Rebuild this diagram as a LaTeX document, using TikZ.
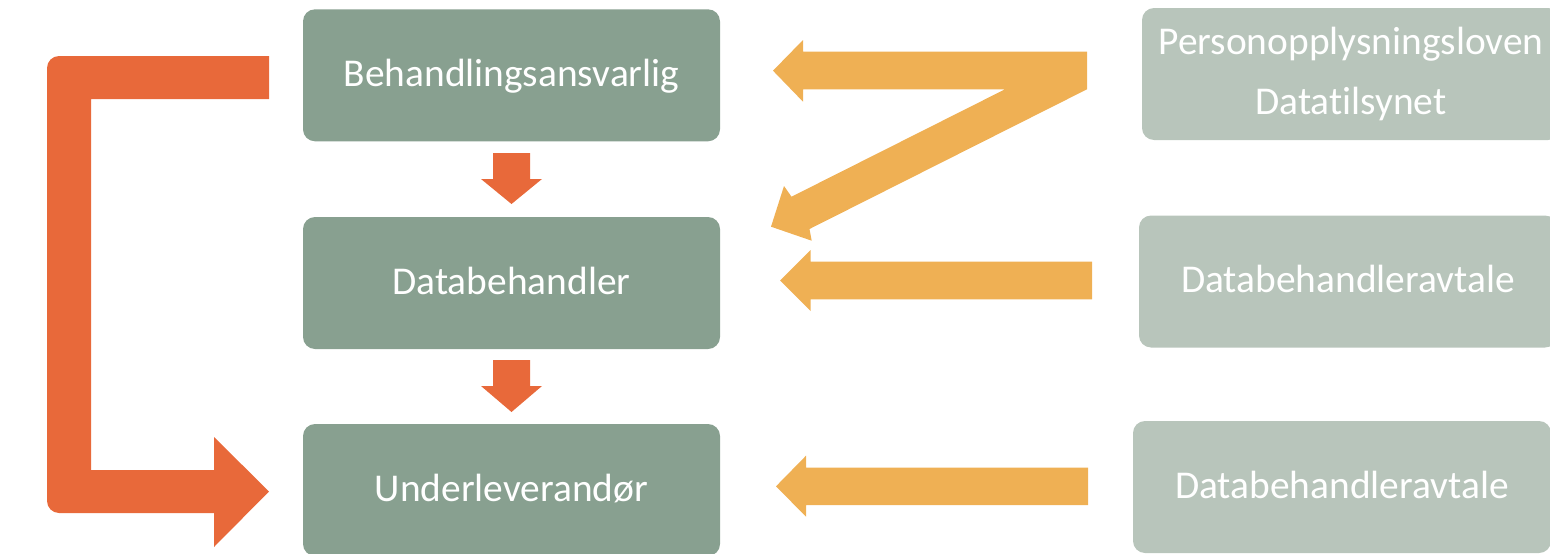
\documentclass[tikz,border=0pt]{standalone}
\usepackage{fontspec}
\setmainfont{Carlito}[Ligatures={NoCommon}]
\definecolor{dgreen}{HTML}{88A090}
\definecolor{lgreen}{HTML}{B8C5BB}
\definecolor{orng}{HTML}{E8693A}
\definecolor{yell}{HTML}{EFB054}
\tikzset{
  mainbox/.style={rectangle, rounded corners=12pt, fill=dgreen, text=white,
    minimum width=417pt, minimum height=132pt, inner sep=0pt,
    font=\fontsize{39.4}{60}\selectfont},
  sidebox/.style={mainbox, fill=lgreen, minimum width=418pt},
  oneline/.style={text height=28pt, text depth=6pt},
  oarrow/.style={fill=orng},
  yarrow/.style={fill=yell},
}
\begin{document}
\begin{tikzpicture}[x=1pt,y=-1pt]
\useasboundingbox (0,0) rectangle (1550,554);
\clip (0,0) rectangle (1550,554);

% main boxes
\node[mainbox, oneline] (b1) at (511.5,75.3) {Behandlingsansvarlig};
\node[mainbox, oneline] (b2) at (511.5,283) {Databehandler};
\node[mainbox, oneline] (b3) at (511.5,490) {Underleverandør};

% side boxes
\node[sidebox, align=center] (r1) at (1351,74) {Personopplysningsloven\\Datatilsynet};
\node[sidebox, oneline] (r2) at (1348,281.5) {Databehandleravtale};
\node[sidebox, oneline] (r3) at (1342,487) {Databehandleravtale};

% small down arrows between main boxes
\fill[oarrow] (493,153) -- (530,153) -- (530,179) -- (542,179) -- (511.5,204)
  -- (481,179) -- (493,179) -- cycle;
\fill[oarrow] (493,360) -- (530,360) -- (530,386) -- (542,386) -- (511.5,412)
  -- (481,386) -- (493,386) -- cycle;

% big L-shaped orange arrow from b1 to b3
\fill[oarrow] (269,56) -- (59,56) .. controls (52.4,56) and (47,61.4) .. (47,68)
  -- (47,501) .. controls (47,507.6) and (52.4,513) .. (59,513)
  -- (214,513) -- (214,547) -- (269,491.5) -- (214,437) -- (214,470)
  -- (91,470) -- (91,99) -- (269,99) -- cycle;

% combined yellow arrow from r1 to b1 and b2
\fill[yarrow] (1087,51.7) -- (1087,89.3) -- (809.5,229) -- (811.7,240.7)
  -- (771,226.7) -- (784,186) -- (791.5,196.7) -- (1005,89.3)
  -- (803,89.3) -- (803,101.7) -- (773,70.7) -- (803,40) -- (803,51.7) -- cycle;

% yellow arrow r2 -> b2
\fill[yarrow] (1092,261.7) -- (1092,299.3) -- (810.7,299.3) -- (810.7,311)
  -- (780,280.5) -- (810.7,250) -- (810.7,261.7) -- cycle;

% yellow arrow r3 -> b3
\fill[yarrow] (1088,467.7) -- (1088,505) -- (806,505) -- (806,516.7)
  -- (776,486.3) -- (806,455.7) -- (806,467.7) -- cycle;
\end{tikzpicture}
\end{document}
